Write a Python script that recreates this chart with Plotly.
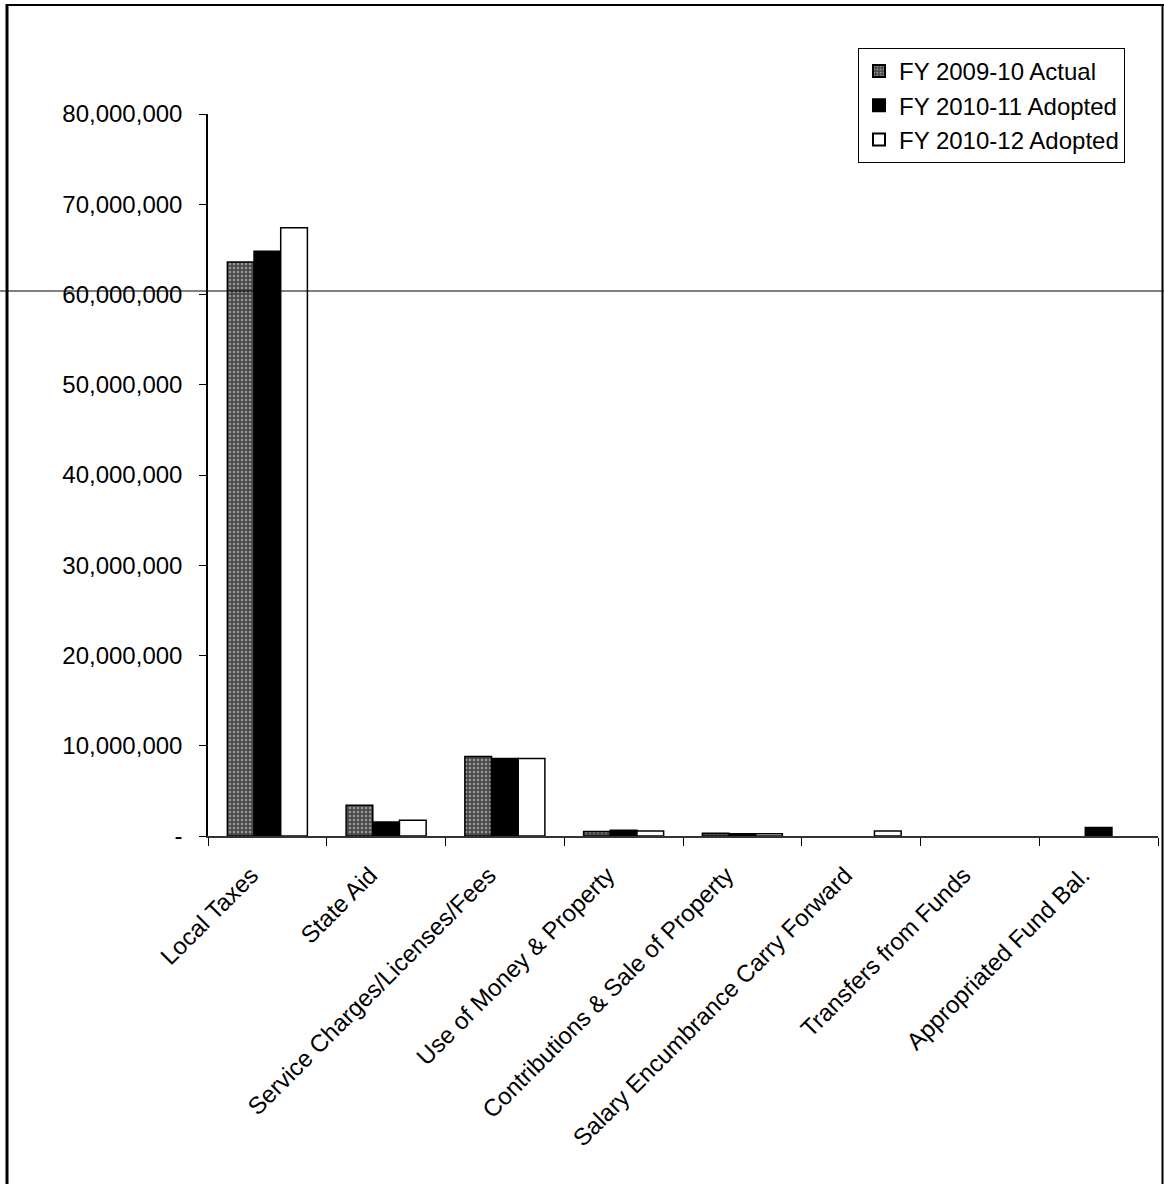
import plotly.graph_objects as go

categories = ["Local Taxes", "State Aid", "Service Charges/Licenses/Fees",
              "Use of Money & Property", "Contributions & Sale of Property",
              "Salary Encumbrance Carry Forward", "Transfers from Funds",
              "Appropriated Fund Bal."]
series_names = ["FY 2009-10 Actual", "FY 2010-11 Adopted", "FY 2010-12 Adopted"]
fy0910_actual = [63600000, 3400000, 8800000, 500000, 300000, 0, 0, 0]
fy1011_adopted = [64800000, 1550000, 8600000, 650000, 250000, 0, 0, 950000]
fy1012_adopted = [67400000, 1750000, 8600000, 550000, 250000, 550000, 0, 0]
y_tickvals = [0, 10000000, 20000000, 30000000, 40000000, 50000000, 60000000, 70000000, 80000000]
y_ticktext = ["-", "10,000,000", "20,000,000", "30,000,000", "40,000,000",
              "50,000,000", "60,000,000", "70,000,000", "80,000,000"]

W, H = 1164, 1184
ML, MR, MT, MB = 208, 6, 114, 348
PW, PH = W - ML - MR, H - MT - MB
FONT = "Liberation Sans, Arial, sans-serif"


def px(x):
    return (x - ML) / PW


def py(y):
    return (H - MB - y) / PH


def outline(vals):
    # no outline for empty (zero) bars
    return [1.5 if v else 0 for v in vals]


fig = go.Figure()
fig.add_trace(go.Bar(
    name=series_names[0], x=categories, y=fy0910_actual,
    marker=dict(color="#4a4a4a", line=dict(color="black", width=outline(fy0910_actual)),
                pattern=dict(shape=".", fgcolor="#e6e6e6", bgcolor="#4a4a4a",
                             size=4, solidity=0.3)),
))
fig.add_trace(go.Bar(
    name=series_names[1], x=categories, y=fy1011_adopted,
    marker=dict(color="black", line=dict(color="black", width=outline(fy1011_adopted))),
))
fig.add_trace(go.Bar(
    name=series_names[2], x=categories, y=fy1012_adopted,
    marker=dict(color="white", line=dict(color="black", width=outline(fy1012_adopted))),
))

shapes = [
    # scan artifact line across the page
    dict(type="line", xref="paper", yref="paper", x0=px(0), x1=px(W), y0=py(291), y1=py(291),
         line=dict(color="black", width=1)),
    # page frame
    dict(type="line", xref="paper", yref="paper", x0=px(7), x1=px(7), y0=py(4), y1=py(H),
         line=dict(color="black", width=3)),
    dict(type="line", xref="paper", yref="paper", x0=px(6), x1=px(W), y0=py(5), y1=py(5),
         line=dict(color="black", width=2)),
    dict(type="line", xref="paper", yref="paper", x0=px(1162.5), x1=px(1162.5), y0=py(4), y1=py(H),
         line=dict(color="black", width=2)),
]

fig.update_layout(
    width=W, height=H,
    margin=dict(l=ML, r=MR, t=MT, b=MB, autoexpand=False),
    paper_bgcolor="white", plot_bgcolor="white",
    font=dict(family=FONT, size=24, color="black"),
    barmode="group", bargap=0.326, bargroupgap=0,
    showlegend=True,
    legend=dict(x=px(858), y=py(48), xanchor="left", yanchor="top",
                bordercolor="black", borderwidth=1, bgcolor="white",
                font=dict(family=FONT, size=24, color="black"),
                itemsizing="constant", itemwidth=30, tracegroupgap=0),
    shapes=shapes,
    xaxis=dict(showline=True, linecolor="#333", linewidth=1.5,
               ticks="outside", tickson="boundaries", ticklen=8, tickcolor="black",
               tickangle=-45, tickfont=dict(family=FONT, size=24, color="black"),
               ticklabelshift=-16, ticklabelstandoff=14,
               showgrid=False, zeroline=False),
    yaxis=dict(range=[0, 80000000], tickvals=y_tickvals, ticktext=y_ticktext,
               showline=True, linecolor="black", linewidth=1.5,
               ticks="outside", ticklen=7, tickcolor="black",
               ticklabelstandoff=12,
               tickfont=dict(family=FONT, size=24, color="black"),
               showgrid=False, zeroline=False),
)

fig.write_html("out.html")
